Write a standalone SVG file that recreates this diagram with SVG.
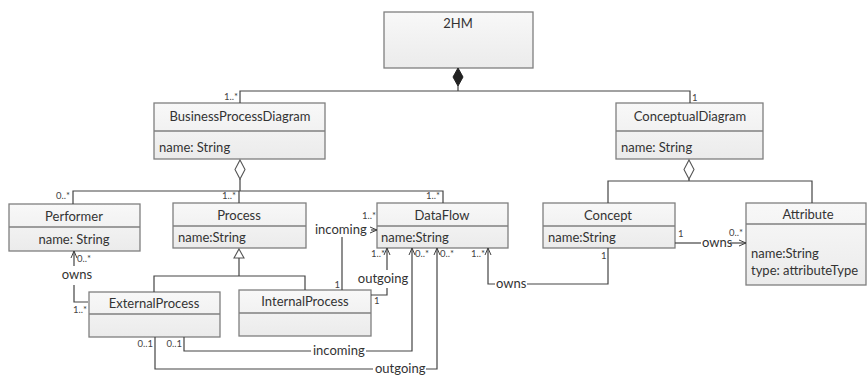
<svg xmlns="http://www.w3.org/2000/svg" width="868" height="377" viewBox="0 0 868 377">
<defs>
<linearGradient id="g" x1="0" y1="0" x2="0" y2="1"><stop offset="0" stop-color="#f8f8f8"/><stop offset="1" stop-color="#ebebeb"/></linearGradient>
<marker id="ar" viewBox="0 0 8 8" refX="8" refY="4" markerWidth="8" markerHeight="8" markerUnits="userSpaceOnUse" orient="auto"><path d="M1,1 L8,4 L1,7" fill="none" stroke="#404040" stroke-width="1"/></marker>
</defs>
<style>
.box{fill:url(#g);stroke:#7f7f7f;stroke-width:1.3}
.div{stroke:#7f7f7f;stroke-width:1.3}
.t{font-family:Lato,"Liberation Sans",sans-serif;font-size:13px;fill:#333}
.c{text-anchor:middle}
.m{font-family:Lato,"Liberation Sans",sans-serif;font-size:9.5px;fill:#444}
.e{text-anchor:end}
.ln{fill:none;stroke:#444;stroke-width:1.2}
.arr{marker-end:url(#ar)}
</style>
<rect width="868" height="377" fill="#fff"/>
<g id="n2HM"><rect class="box" x="384" y="12" width="149" height="56"/><text class="t c" x="458" y="28">2HM</text></g>
<g id="BusinessProcessDiagram"><rect class="box" x="154" y="103" width="171" height="56"/><line class="div" x1="154" y1="131" x2="325" y2="131"/><text class="t c" x="240" y="121">BusinessProcessDiagram</text><text class="t" x="159" y="152">name: String</text></g>
<g id="ConceptualDiagram"><rect class="box" x="616" y="103" width="147" height="56"/><line class="div" x1="616" y1="131" x2="763" y2="131"/><text class="t c" x="690" y="121">ConceptualDiagram</text><text class="t" x="621" y="152">name: String</text></g>
<g id="Performer"><rect class="box" x="9" y="204" width="131" height="47"/><line class="div" x1="9" y1="227" x2="140" y2="227"/><text class="t c" x="74" y="221">Performer</text><text class="t c" x="74" y="244">name: String</text></g>
<g id="Process"><rect class="box" x="173" y="203" width="133" height="45"/><line class="div" x1="173" y1="226" x2="306" y2="226"/><text class="t c" x="239" y="220">Process</text><text class="t" x="178" y="242">name:String</text></g>
<g id="DataFlow"><rect class="box" x="377" y="203" width="131" height="45"/><line class="div" x1="377" y1="226" x2="508" y2="226"/><text class="t c" x="442" y="220">DataFlow</text><text class="t" x="381" y="242">name:String</text></g>
<g id="Concept"><rect class="box" x="543" y="203" width="132" height="45"/><line class="div" x1="543" y1="226" x2="675" y2="226"/><text class="t c" x="608" y="220">Concept</text><text class="t" x="548" y="242">name:String</text></g>
<g id="Attribute"><rect class="box" x="746" y="203" width="120" height="82"/><line class="div" x1="746" y1="224" x2="866" y2="224"/><text class="t c" x="808" y="219">Attribute</text><text class="t" x="751" y="258">name:String</text><text class="t" x="751" y="275">type: attributeType</text></g>
<g id="ExternalProcess"><rect class="box" x="89" y="292" width="131" height="45"/><line class="div" x1="89" y1="314" x2="220" y2="314"/><text class="t c" x="154" y="308">ExternalProcess</text></g>
<g id="InternalProcess"><rect class="box" x="239" y="290" width="132" height="46"/><line class="div" x1="239" y1="313" x2="371" y2="313"/><text class="t c" x="305" y="306">InternalProcess</text></g>
<g id="connectors">
<polygon points="458,68 463,77 458,86 453,77" fill="#222" stroke="#222"/>
<path class="ln" d="M458,86 V91 M240,103 V91 H690 V103"/>
<text class="m e" x="238" y="100">1..*</text><text class="m" x="692" y="101">1</text>
<polygon points="240,160 245,169.5 240,179 235,169.5" fill="#fff" stroke="#555" stroke-width="1.1"/>
<path class="ln" d="M240,179 V191 M73,204 V191 H443 V203 M239,191 V203"/>
<text class="m e" x="70" y="199">0..*</text><text class="m e" x="236" y="199">1..*</text><text class="m e" x="440" y="199">1..*</text>
<polygon points="689,160 694,169.5 689,179 684,169.5" fill="#fff" stroke="#555" stroke-width="1.1"/>
<path class="ln" d="M689,179 V181 M608,203 V181 H812 V203"/>
<polygon points="239,249 244,258 234,258" fill="#fff" stroke="#555" stroke-width="1.1"/>
<path class="ln" d="M239,258 V276 M154,292 V276 H305 V290"/>
<path class="ln" d="M88,302 H74 V285"/><path class="ln arr" d="M74,266 V251"/>
<text class="t c" x="77" y="279">owns</text><text class="m" x="77" y="262">0..*</text><text class="m e" x="87" y="313">1..*</text>
<path class="ln" d="M342,290 V237"/><path class="ln arr" d="M371,230 H377"/>
<text class="t" x="315" y="234">incoming</text><text class="m e" x="340" y="288">1</text><text class="m" x="362" y="219">1..*</text>
<path class="ln" d="M371,295 H387 V288"/><path class="ln arr" d="M387,270 V248"/>
<text class="t c" x="383" y="283">outgoing</text><text class="m e" x="385" y="257">1..*</text><text class="m" x="374" y="304">1</text>
<path class="ln" d="M184,337 V351 H311"/><path class="ln arr" d="M366,351 H412 V248"/>
<text class="t" x="313" y="355">incoming</text><text class="m e" x="182" y="347">0..1</text><text class="m" x="415" y="257">0..*</text>
<path class="ln" d="M155,337 V369 H373"/><path class="ln arr" d="M426,369 H437 V248"/>
<text class="t" x="375" y="373">outgoing</text><text class="m e" x="153" y="347">0..1</text><text class="m" x="440" y="257">0..*</text>
<path class="ln" d="M608,248 V284 H527"/><path class="ln arr" d="M495,284 H488 V248"/>
<text class="t" x="496" y="288">owns</text><text class="m" x="601" y="259">1</text><text class="m e" x="485" y="257">1..*</text>
<path class="ln" d="M675,243 H701"/><path class="ln arr" d="M730,243 H746"/>
<text class="t" x="702" y="247">owns</text><text class="m" x="678" y="237">1</text><text class="m" x="729" y="236">0..*</text>
</g>
</svg>
